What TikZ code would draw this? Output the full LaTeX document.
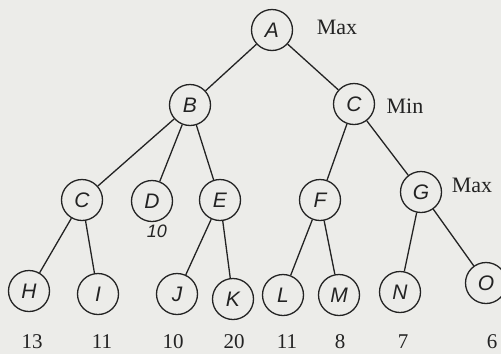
\documentclass[tikz,border=0pt]{standalone}
\usepackage{fontspec}
\setmainfont{Liberation Serif}
\newfontfamily\handfont{Liberation Sans}
\usetikzlibrary{positioning}
\definecolor{paper}{RGB}{236,236,233}
\definecolor{ink}{RGB}{35,35,35}
\tikzstyle{state} = [circle, draw=ink, line width=1.3pt, minimum size=41pt, inner sep=0pt, text=ink, font=\handfont\itshape\fontsize{21}{21}\selectfont]
\tikzstyle{level} = [text=ink, font=\fontsize{22}{22}\selectfont]
\tikzstyle{score} = [text=ink, font=\fontsize{21}{21}\selectfont]
\tikzstyle{line} = [draw=ink, line width=1.3pt]

\begin{document}
\begin{tikzpicture}[x=1pt, y=-1pt]
\fill [paper] (0,0) rectangle (501,354);
\useasboundingbox (0,0) rectangle (501,354);
% max level
\node [state] (a) at (272,30) {A};
\node [level] (maxa) at (337,27) {Max};
% min level
\node [state] (b) at (190,105) {B};
\node [state] (cr) at (354,104) {C};
\node [level] (mincr) at (405,106) {Min};
% third level
\node [state] (cl) at (82,200) {C};
\node [state] (d) at (152,201) {D};
\node [text=ink, font=\handfont\itshape\fontsize{18}{18}\selectfont] (dval) at (157,231) {10};
\node [state] (e) at (220,200) {E};
\node [state] (f) at (320,200) {F};
\node [state] (g) at (421,192) {G};
\node [level] (maxg) at (472,185) {Max};
% leaves
\node [state] (h) at (29,291) {H};
\node [state] (i) at (98,294) {I};
\node [state] (j) at (177,294) {J};
\node [state] (k) at (233,299) {K};
\node [state] (l) at (283,295) {L};
\node [state] (m) at (339,295) {M};
\node [state] (n) at (400,292) {N};
\node [state] (o) at (486,283) {O};
% leaf values
\node [score] (vh) at (32,342) {13};
\node [score] (vi) at (102,342) {11};
\node [score] (vj) at (173,342) {10};
\node [score] (vk) at (234,342) {20};
\node [score] (vl) at (287,342) {11};
\node [score] (vm) at (340,342) {8};
\node [score] (vn) at (403,342) {7};
\node [score] (vo) at (492,342) {6};
% edges
\path [line] (a) -- (b);
\path [line] (a) -- (cr);
\path [line] (b) -- (cl);
\path [line] (b) -- (d);
\path [line] (b) -- (e);
\path [line] (cr) -- (f);
\path [line] (cr) -- (g);
\path [line] (cl) -- (h);
\path [line] (cl) -- (i);
\path [line] (e) -- (j);
\path [line] (e) -- (k);
\path [line] (f) -- (l);
\path [line] (f) -- (m);
\path [line] (g) -- (n);
\path [line] (g) -- (o);
\end{tikzpicture}
\end{document}
